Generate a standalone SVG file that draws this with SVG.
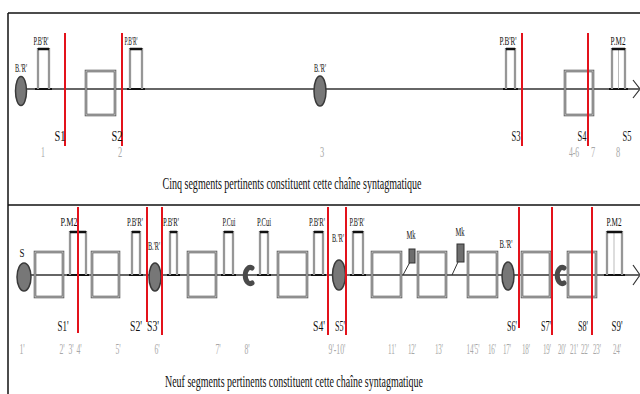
<svg xmlns="http://www.w3.org/2000/svg" width="640" height="394" viewBox="0 0 640 394">
<defs>
<style>
.frame{stroke:#111;stroke-width:1.5;fill:none}
.main{stroke:#333;stroke-width:1.5;fill:none}
.red{stroke:#e3121b;stroke-width:2;fill:none}
.boxo{fill:none;stroke:#606060;stroke-width:2.6}
.boxi{fill:none;stroke:#e8e8e8;stroke-width:0.7}
.po{fill:none;stroke:#666;stroke-width:2.2}
.pi{fill:none;stroke:#f2f2f2;stroke-width:0.7}
.ptop{stroke:#111;stroke-width:2.5}
.foot{stroke:#111;stroke-width:2}
.circ{fill:#777;stroke:#3a3a3a;stroke-width:1.5}
.cshape{fill:none;stroke:#4a4a4a;stroke-width:5;stroke-linecap:round}
.mk{fill:#6e6e6e;stroke:#333;stroke-width:1}
.mkl{stroke:#333;stroke-width:1}
.arr{fill:none;stroke:#333;stroke-width:1.2}
text{font-family:"Liberation Serif","Times New Roman",serif;text-anchor:middle;fill:#111}
.lab{font-size:13px}
.seg{font-size:15px}
.num{font-size:14px;fill:#a8a8a8}
.cap{font-size:16px}
</style>
</defs>

<g id="frames">
<line class="frame" x1="8" y1="13" x2="640" y2="13"/>
<line class="frame" x1="8" y1="205" x2="640" y2="205"/>
<line class="frame" x1="8" y1="13" x2="8" y2="394"/>
</g>

<g id="connectors">
<line class="main" x1="21" y1="89" x2="639" y2="89"/>
<polyline class="arr" points="633,80 640,89 633,98"/>
<line class="main" x1="24" y1="275" x2="639" y2="275"/>
<polyline class="arr" points="633,265 640,275 633,285"/>
</g>

<!-- TOP PANEL -->
<g id="t-circle1"><ellipse class="circ" cx="21" cy="91" rx="5.5" ry="14.5"/><text class="lab" x="21" y="72" textLength="12" lengthAdjust="spacingAndGlyphs">B.'R'</text></g>
<g id="t-pulse1"><line class="foot" x1="35" y1="89" x2="52" y2="89"/><path class="po" d="M38,89V49H49V89"/><path class="pi" d="M38,89V49H49V89"/><line class="ptop" x1="38" y1="49" x2="49" y2="49"/><text class="lab" x="41" y="45" textLength="15" lengthAdjust="spacingAndGlyphs">P.B'R'</text></g>
<g id="t-S1"><line class="red" x1="65" y1="33" x2="65" y2="146"/><text class="seg" x="60" y="141" textLength="11" lengthAdjust="spacingAndGlyphs">S1</text></g>
<g id="t-box1"><rect class="boxo" x="86" y="71" width="29" height="44"/><rect class="boxi" x="86" y="71" width="29" height="44"/></g>
<g id="t-S2"><line class="red" x1="122" y1="33" x2="122" y2="146"/><text class="seg" x="117" y="141" textLength="11" lengthAdjust="spacingAndGlyphs">S2</text></g>
<g id="t-pulse2"><line class="foot" x1="127" y1="89" x2="145" y2="89"/><path class="po" d="M130,89V49H142V89"/><path class="pi" d="M130,89V49H142V89"/><line class="ptop" x1="130" y1="49" x2="142" y2="49"/><text class="lab" x="131" y="45" textLength="13" lengthAdjust="spacingAndGlyphs">P.B'R'</text></g>
<g id="t-circle2"><ellipse class="circ" cx="320" cy="91" rx="6" ry="15"/><text class="lab" x="320" y="72" textLength="12" lengthAdjust="spacingAndGlyphs">B.'R'</text></g>
<g id="t-pulse3"><line class="foot" x1="503" y1="89" x2="518" y2="89"/><path class="po" d="M506,89V49H515V89"/><path class="pi" d="M506,89V49H515V89"/><line class="ptop" x1="506" y1="49" x2="515" y2="49"/><text class="lab" x="508" y="45" textLength="17" lengthAdjust="spacingAndGlyphs">P.B'R'</text></g>
<g id="t-S3"><line class="red" x1="522" y1="33" x2="522" y2="146"/><text class="seg" x="516" y="141" textLength="9" lengthAdjust="spacingAndGlyphs">S3</text></g>
<g id="t-box2"><rect class="boxo" x="565" y="71" width="28" height="44"/><rect class="boxi" x="565" y="71" width="28" height="44"/></g>
<g id="t-S4"><line class="red" x1="588" y1="33" x2="588" y2="146"/><text class="seg" x="582" y="141" textLength="9" lengthAdjust="spacingAndGlyphs">S4</text></g>
<g id="t-pulse4"><line class="foot" x1="609" y1="89" x2="628" y2="89"/><path class="po" d="M612,89V49H625V89"/><path class="pi" d="M612,89V49H625V89"/><line x1="618.5" y1="50" x2="618.5" y2="89" stroke="#aaa" stroke-width="0.8"/><line class="ptop" x1="612" y1="49" x2="625" y2="49"/><text class="lab" x="618" y="45" textLength="15" lengthAdjust="spacingAndGlyphs">P.M2</text></g>
<g id="t-S5"><text class="seg" x="627" y="141" textLength="9" lengthAdjust="spacingAndGlyphs">S5</text></g>
<g id="t-numbers">
<text class="num" transform="translate(43 157) scale(0.55 1)">1</text>
<text class="num" transform="translate(120 157) scale(0.6 1)">2</text>
<text class="num" transform="translate(322 157) scale(0.6 1)">3</text>
<text class="num" transform="translate(574 157) scale(0.55 1)">4-6</text>
<text class="num" transform="translate(593 157) scale(0.6 1)">7</text>
<text class="num" transform="translate(618 157) scale(0.6 1)">8</text>
</g>
<text class="cap" x="292" y="189" textLength="259" lengthAdjust="spacingAndGlyphs">Cinq segments pertinents constituent cette chaîne syntagmatique</text>

<!-- BOTTOM PANEL -->
<g id="b-S"><ellipse class="circ" cx="24" cy="277" rx="7" ry="14"/><text class="lab" x="22" y="257" textLength="5" lengthAdjust="spacingAndGlyphs">S</text></g>
<g id="b-box1"><rect class="boxo" x="35" y="252" width="28" height="45"/><rect class="boxi" x="35" y="252" width="28" height="45"/></g>
<g id="b-pulse1"><line class="foot" x1="67" y1="275" x2="89" y2="275"/><path class="po" d="M70,275V232H86V275"/><path class="pi" d="M70,275V232H86V275"/><line x1="78" y1="233" x2="78" y2="275" stroke="#aaa" stroke-width="0.8"/><line class="ptop" x1="70" y1="232" x2="86" y2="232"/><text class="lab" x="69" y="226" textLength="17" lengthAdjust="spacingAndGlyphs">P.M2</text></g>
<g id="b-S1"><line class="red" x1="78" y1="207" x2="78" y2="333"/><text class="seg" x="63" y="331" textLength="11" lengthAdjust="spacingAndGlyphs">S1'</text></g>
<g id="b-box2"><rect class="boxo" x="92" y="252" width="27" height="45"/><rect class="boxi" x="92" y="252" width="27" height="45"/></g>
<g id="b-pulse2"><line class="foot" x1="129" y1="275" x2="143" y2="275"/><path class="po" d="M132,275V232H140V275"/><path class="pi" d="M132,275V232H140V275"/><line class="ptop" x1="132" y1="232" x2="140" y2="232"/><text class="lab" x="135" y="226" textLength="16" lengthAdjust="spacingAndGlyphs">P.B'R'</text></g>
<g id="b-S2"><line class="red" x1="147" y1="207" x2="147" y2="322"/><text class="seg" x="136" y="331" textLength="12" lengthAdjust="spacingAndGlyphs">S2'</text></g>
<g id="b-circle2"><ellipse class="circ" cx="155" cy="277" rx="6" ry="14"/><text class="lab" x="154" y="250" textLength="12" lengthAdjust="spacingAndGlyphs">B.'R'</text></g>
<g id="b-S3"><line class="red" x1="162" y1="207" x2="162" y2="335"/><text class="seg" x="153" y="331" textLength="12" lengthAdjust="spacingAndGlyphs">S3'</text></g>
<g id="b-pulse3"><line class="foot" x1="167" y1="275" x2="180" y2="275"/><path class="po" d="M170,275V232H177V275"/><path class="pi" d="M170,275V232H177V275"/><line class="ptop" x1="170" y1="232" x2="177" y2="232"/><text class="lab" x="171" y="226" textLength="16" lengthAdjust="spacingAndGlyphs">P.B'R'</text></g>
<g id="b-box3"><rect class="boxo" x="188" y="252" width="28" height="45"/><rect class="boxi" x="188" y="252" width="28" height="45"/></g>
<g id="b-pulse4"><line class="foot" x1="221" y1="275" x2="236" y2="275"/><path class="po" d="M224,275V232H233V275"/><path class="pi" d="M224,275V232H233V275"/><line class="ptop" x1="224" y1="232" x2="233" y2="232"/><text class="lab" x="229" y="226" textLength="13" lengthAdjust="spacingAndGlyphs">P.Cui</text></g>
<g id="b-c1"><path class="cshape" d="M252,268 A5,8 0 1 0 252,283"/></g>
<g id="b-pulse5"><line class="foot" x1="257" y1="275" x2="271" y2="275"/><path class="po" d="M260,275V232H268V275"/><path class="pi" d="M260,275V232H268V275"/><line class="ptop" x1="260" y1="232" x2="268" y2="232"/><text class="lab" x="264" y="226" textLength="14" lengthAdjust="spacingAndGlyphs">P.Cui</text></g>
<g id="b-box4"><rect class="boxo" x="278" y="252" width="29" height="45"/><rect class="boxi" x="278" y="252" width="29" height="45"/></g>
<g id="b-pulse6"><line class="foot" x1="311" y1="275" x2="326" y2="275"/><path class="po" d="M314,275V232H323V275"/><path class="pi" d="M314,275V232H323V275"/><line class="ptop" x1="314" y1="232" x2="323" y2="232"/><text class="lab" x="317" y="226" textLength="16" lengthAdjust="spacingAndGlyphs">P.B'R'</text></g>
<g id="b-S4"><line class="red" x1="328" y1="207" x2="328" y2="335"/><text class="seg" x="319" y="331" textLength="12" lengthAdjust="spacingAndGlyphs">S4'</text></g>
<g id="b-circle3"><ellipse class="circ" cx="339" cy="275" rx="6.5" ry="15"/><text class="lab" x="338" y="242" textLength="12" lengthAdjust="spacingAndGlyphs">B.'R'</text></g>
<g id="b-S5"><line class="red" x1="346" y1="207" x2="346" y2="335"/><text class="seg" x="340" y="331" textLength="10" lengthAdjust="spacingAndGlyphs">S5'</text></g>
<g id="b-pulse7"><line class="foot" x1="350" y1="275" x2="366" y2="275"/><path class="po" d="M353,275V232H363V275"/><path class="pi" d="M353,275V232H363V275"/><line class="ptop" x1="353" y1="232" x2="363" y2="232"/><text class="lab" x="357" y="226" textLength="15" lengthAdjust="spacingAndGlyphs">P.B'R'</text></g>
<g id="b-box5"><rect class="boxo" x="372" y="252" width="29" height="45"/><rect class="boxi" x="372" y="252" width="29" height="45"/></g>
<g id="b-mk1"><line class="mkl" x1="403" y1="275" x2="410" y2="262"/><rect class="mk" x="409" y="249" width="6" height="14"/><text class="lab" x="411" y="239" textLength="9" lengthAdjust="spacingAndGlyphs">Mk</text></g>
<g id="b-box6"><rect class="boxo" x="418" y="252" width="28" height="45"/><rect class="boxi" x="418" y="252" width="28" height="45"/></g>
<g id="b-mk2"><line class="mkl" x1="452" y1="275" x2="458" y2="262"/><rect class="mk" x="457" y="244" width="7" height="18"/><text class="lab" x="460" y="236" textLength="9" lengthAdjust="spacingAndGlyphs">Mk</text></g>
<g id="b-box7"><rect class="boxo" x="468" y="252" width="29" height="45"/><rect class="boxi" x="468" y="252" width="29" height="45"/></g>
<g id="b-circle4"><ellipse class="circ" cx="508" cy="276" rx="6" ry="14"/><text class="lab" x="506" y="248" textLength="13" lengthAdjust="spacingAndGlyphs">B.'R'</text></g>
<g id="b-S6"><line class="red" x1="519" y1="207" x2="519" y2="328"/><text class="seg" x="512" y="331" textLength="10" lengthAdjust="spacingAndGlyphs">S6'</text></g>
<g id="b-box8"><rect class="boxo" x="522" y="252" width="28" height="45"/><rect class="boxi" x="522" y="252" width="28" height="45"/></g>
<g id="b-S7"><line class="red" x1="552" y1="207" x2="552" y2="335"/><text class="seg" x="546" y="331" textLength="10" lengthAdjust="spacingAndGlyphs">S7'</text></g>
<g id="b-c2"><path class="cshape" d="M564,268 A5,8 0 1 0 564,283"/></g>
<g id="b-box9"><rect class="boxo" x="568" y="252" width="28" height="45"/><rect class="boxi" x="568" y="252" width="28" height="45"/></g>
<g id="b-S8"><line class="red" x1="592" y1="207" x2="592" y2="335"/><text class="seg" x="583" y="331" textLength="10" lengthAdjust="spacingAndGlyphs">S8'</text></g>
<g id="b-pulse8"><line class="foot" x1="604" y1="275" x2="625" y2="275"/><path class="po" d="M607,275V232H622V275"/><path class="pi" d="M607,275V232H622V275"/><line x1="614" y1="233" x2="614" y2="275" stroke="#aaa" stroke-width="0.8"/><line class="ptop" x1="607" y1="232" x2="622" y2="232"/><text class="lab" x="614" y="226" textLength="15" lengthAdjust="spacingAndGlyphs">P.M2</text></g>
<g id="b-S9"><text class="seg" x="617" y="331" textLength="11" lengthAdjust="spacingAndGlyphs">S9'</text></g>
<g id="b-numbers">
<text class="num" transform="translate(22 354) scale(0.55 1)">1'</text>
<text class="num" transform="translate(62 354) scale(0.55 1)">2'</text>
<text class="num" transform="translate(71 354) scale(0.55 1)">3'</text>
<text class="num" transform="translate(79 354) scale(0.55 1)">4'</text>
<text class="num" transform="translate(118 354) scale(0.55 1)">5'</text>
<text class="num" transform="translate(157 354) scale(0.55 1)">6'</text>
<text class="num" transform="translate(218 354) scale(0.55 1)">7'</text>
<text class="num" transform="translate(247 354) scale(0.55 1)">8'</text>
<text class="num" transform="translate(337 354) scale(0.55 1)">9'-10'</text>
<text class="num" transform="translate(392 354) scale(0.5 1)">11'</text>
<text class="num" transform="translate(412 354) scale(0.5 1)">12'</text>
<text class="num" transform="translate(439 354) scale(0.5 1)">13'</text>
<text class="num" transform="translate(473 354) scale(0.5 1)">14'5'</text>
<text class="num" transform="translate(492 354) scale(0.5 1)">16'</text>
<text class="num" transform="translate(507 354) scale(0.5 1)">17'</text>
<text class="num" transform="translate(526 354) scale(0.5 1)">18'</text>
<text class="num" transform="translate(547 354) scale(0.5 1)">19'</text>
<text class="num" transform="translate(562 354) scale(0.5 1)">20'</text>
<text class="num" transform="translate(574 354) scale(0.5 1)">21'</text>
<text class="num" transform="translate(585 354) scale(0.5 1)">22'</text>
<text class="num" transform="translate(597 354) scale(0.5 1)">23'</text>
<text class="num" transform="translate(617 354) scale(0.5 1)">24'</text>
</g>
<text class="cap" x="294" y="387" textLength="258" lengthAdjust="spacingAndGlyphs">Neuf segments pertinents constituent cette chaîne syntagmatique</text>
</svg>
